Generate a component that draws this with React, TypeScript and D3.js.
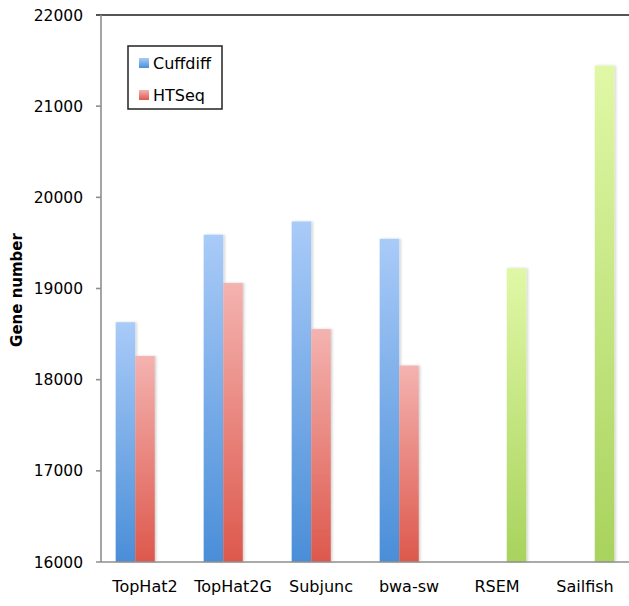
import React from "react";
import * as d3 from "d3";

const categories = ["TopHat2", "TopHat2G", "Subjunc", "bwa-sw", "RSEM", "Sailfish"];
const seriesNames = ["Cuffdiff", "HTSeq", "Transcript"];
const cuffdiff = [18630, 19590, 19735, 19545, null, null];
const htseq = [18260, 19060, 18555, 18155, null, null];
const transcript = [null, null, null, null, 19222, 21445];
const yTicks = [16000, 17000, 18000, 19000, 20000, 21000, 22000];
const legendItems = ["Cuffdiff", "HTSeq"];

const W = 629;
const H = 606;

export default function App() {
  const x = d3.scaleBand<string>().domain(categories).range([101, 629]).paddingInner(0).paddingOuter(0);
  const xs = d3.scaleBand<string>().domain(seriesNames).range([0, x.bandwidth()]).paddingInner(0).paddingOuter(0.75);
  const y = d3.scaleLinear().domain([16000, 22000]).range([562, 15]);

  const data = [cuffdiff, htseq, transcript];
  const grads = ["gBlue", "gRed", "gGreen"];
  const gradStops = [
    ["#a9cbf8", "#4a8ed8"],
    ["#f4b3b0", "#dd584c"],
    ["#e0f8a6", "#a8d35d"],
  ];

  return (
    <svg width={W} height={H} style={{ position: "absolute", left: 0, top: 0, background: "#fff" }}
      fontFamily="'DejaVu Sans', sans-serif">
      <defs>
        {grads.map((id, i) => (
          <linearGradient key={id} id={id} x1="0" y1="0" x2="0" y2="1">
            <stop offset="0" stopColor={gradStops[i][0]} />
            <stop offset="1" stopColor={gradStops[i][1]} />
          </linearGradient>
        ))}
        <filter id="shadow" x="-30%" y="-5%" width="160%" height="110%">
          <feDropShadow dx="1.5" dy="0" stdDeviation="1" floodColor="#000" floodOpacity="0.18" />
        </filter>
      </defs>

      {data.map((vals, si) =>
        vals.map((v, ci) =>
          v == null ? null : (
            <rect
              key={`${si}-${ci}`}
              x={(x(categories[ci]) as number) + (xs(seriesNames[si]) as number)}
              y={y(v)}
              width={xs.bandwidth()}
              height={y(16000) - y(v)}
              fill={`url(#${grads[si]})`}
              filter="url(#shadow)"
            />
          )
        )
      )}

      {/* top border */}
      <line x1={96} x2={W} y1={y(22000)} y2={y(22000)} stroke="#555" strokeWidth={2} />
      {/* y axis */}
      <line x1={101} x2={101} y1={y(22000)} y2={y(16000)} stroke="#8e8e8e" strokeWidth={1.6} />
      {/* x axis */}
      <line x1={96} x2={W} y1={y(16000)} y2={y(16000)} stroke="#8e8e8e" strokeWidth={1.6} />

      {yTicks.map((t) => (
        <g key={t}>
          {t !== 16000 && t !== 22000 && (
            <line x1={96} x2={101} y1={y(t)} y2={y(t)} stroke="#8e8e8e" strokeWidth={1.6} />
          )}
          <text x={83} y={y(t)} dy="0.36em" textAnchor="end" fontSize={15.5} fill="#000">
            {t}
          </text>
        </g>
      ))}

      {categories.map((c) => (
        <text key={c} x={(x(c) as number) + x.bandwidth() / 2} y={592} textAnchor="middle" fontSize={16} fill="#000">
          {c}
        </text>
      ))}

      <text transform={`translate(22,290) rotate(-90)`} textAnchor="middle" fontSize={15} fontWeight="bold" fill="#000">
        Gene number
      </text>

      {/* legend */}
      <rect x={128} y={46} width={94} height={63} fill="#fff" stroke="#222" strokeWidth={1.5} />
      {legendItems.map((name, i) => (
        <g key={name}>
          <rect x={139} y={58 + i * 32} width={10} height={10} fill={`url(#${grads[i]})`} />
          <text x={153} y={69 + i * 32} fontSize={16} fill="#000">
            {name}
          </text>
        </g>
      ))}
    </svg>
  );
}
